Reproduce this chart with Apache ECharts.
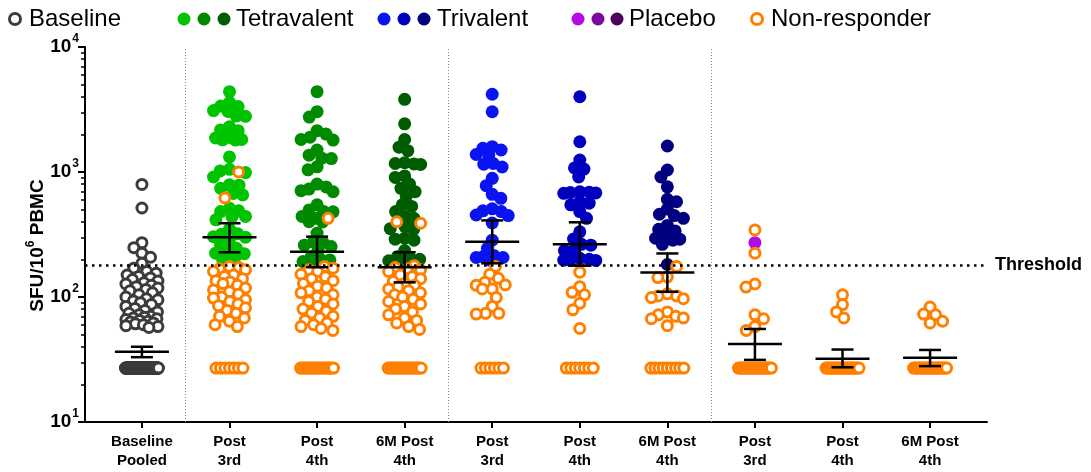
<!DOCTYPE html>
<html><head><meta charset="utf-8">
<script src="https://cdn.jsdelivr.net/npm/echarts/dist/echarts.min.js"></script>
<style>html,body{margin:0;padding:0;background:#fff}#c{width:1091px;height:472px}</style>
</head><body><div id="c"></div>
<script>
// ---------------- DATA ----------------
const categories = ['Baseline\nPooled','Post\n3rd','Post\n4th','6M Post\n4th','Post\n3rd','Post\n4th','6M Post\n4th','Post\n3rd','Post\n4th','6M Post\n4th'];
const yTickValues = [10, 100, 1000, 10000];
const minorTickValues = [20,30,40,50,60,70,80,90,200,300,400,500,600,700,800,900,2000,3000,4000,5000,6000,7000,8000,9000];
const thresholdValue = 180;
const floorValue = 27;   // plotted value of non-detected responses

const baselinePooled = [795,515,272,248,224,208,186,170,160,155,150,146,142,138,134,130,127,124,121,118,115,112,108,104,100,97,95,93,90,87,84,81,78,76,74,72,70,69,68,67,66,65,64,63,62,61,60,59,58,57];

const tetraPost3rd = [4390,3600,3370,3340,3100,3050,2800,2790,2300,2170,2140,1890,1870,1820,1810,1800,1320,1050,1020,990,912,790,785,740,673,655,513,490,482,441,438,414,350,320,318,304,301,276,260,245,230,224,222,205,198];
const tetraPost4th = [4390,3040,2750,2140,2010,1900,1820,1800,1500,1364,1290,1280,1100,1040,800,760,730,709,695,546,497,482,480,441,426,400,398,324,276,275,260,253,237,210,200,198,192,190];
const tetra6MPost4th = [3815,2430,1820,1580,1480,1188,1170,1160,1150,930,905,800,740,695,640,546,530,482,441,426,366,352,348,295,290,285,235,210,204,200,195,190];
const triPost3rd = [4186,3035,1594,1548,1500,1380,1364,1170,1155,1097,890,777,663,616,507,489,482,453,448,391,285,245,215,210,207,207,198];
const triPost4th = [4000,1745,1247,1078,1055,912,695,690,685,680,675,578,563,546,482,426,332,291,264,260,237,235,204,200,198,197,196];
const tri6MPost4th = [1614,1038,912,761,605,578,505,459,448,426,374,348,338,305,295,290,285,264,182];
const placeboPost3rd = [272];
const placeboPost4th = [];
const placebo6MPost4th = [];

const nrTetraPost3rd = [1000,620,175,172,168,165,160,150,146,140,135,132,128,124,118,114,110,105,100,98,95,92,88,85,82,78,74,70,68,64,60,58];
const nrTetraPost4th = [426,175,170,165,160,152,145,140,135,128,122,118,112,108,104,100,96,92,88,84,80,77,74,70,68,65,62,60,58,56,54];
const nrTetra6MPost4th = [400,389,178,172,168,165,160,150,145,140,133,128,124,120,116,112,108,104,100,96,92,88,84,80,76,72,68,65,62,58,55];
const nrTriPost3rd = [175,152,141,131,125,124,116,116,99,84,74,73,74];
const nrTriPost4th = [158,121,109,104,89,79,56];
const nrTri6MPost4th = [175,145,143,106,102,102,99,97,76,72,70,68,67,59];
const nrPlaceboPost3rd = [344,224,127,120,72,67,58,54];
const nrPlaceboPost4th = [104,87,76,68];
const nrPlacebo6MPost4th = [83,73,72,64,62];

const floorCounts = [100,7,20,20,6,7,9,23,23,23];

const geoMean = [36.5,300,230,173,277,264,157,42,32,32.6];
const ciLow   = [33,228,173,131,186,178,110,31.4,27.4,28];
const ciHigh  = [40,389,304,228,410,396,223,55.5,38,37.7];

// ---------------- STYLE / LAYOUT ----------------
const FONT = '"Liberation Sans", Arial, Helvetica, sans-serif';
const ORANGE = '#ff8000';
const GRAY = '#3c3c3c';
const groupColors = [GRAY,'#00c400','#008a00','#005c00','#0a14f0','#0000c0','#000080','#b40ae6','#7d0a9b','#4b005f'];
const responders = [baselinePooled,tetraPost3rd,tetraPost4th,tetra6MPost4th,triPost3rd,triPost4th,tri6MPost4th,placeboPost3rd,placeboPost4th,placebo6MPost4th];
const nonResponders = [[],nrTetraPost3rd,nrTetraPost4th,nrTetra6MPost4th,nrTriPost3rd,nrTriPost4th,nrTri6MPost4th,nrPlaceboPost3rd,nrPlaceboPost4th,nrPlacebo6MPost4th];

const W = 1091, H = 472;
const grid = {left: 85, right: 104, top: 47, bottom: 50};
const xMin = -0.65, xMax = 9.65, yMin = 10, yMax = 10000;
const pxPerX = (W - grid.left - grid.right) / (xMax - xMin);
const pxPerDec = (H - grid.top - grid.bottom) / Math.log10(yMax / yMin);

// beeswarm layout (pixel space -> data offsets)
function swarm(items, minD, maxOff) {
  const placed = [];
  const sorted = items.slice().sort((a, b) => b.v - a.v);
  let lastSign = 1;
  for (const it of sorted) {
    const y = -Math.log10(it.v) * pxPerDec;
    const near = placed.filter(p => Math.abs(p.y - y) < minD);
    let cands = [0];
    for (const p of near) {
      const dx = Math.sqrt(minD * minD - (p.y - y) * (p.y - y));
      cands.push(p.x + dx, p.x - dx);
    }
    cands = cands.filter(x => Math.abs(x) <= maxOff + 1e-6);
    const ok = cands.filter(x => near.every(p => Math.hypot(p.x - x, p.y - y) >= minD - 1e-6));
    let best = 0;
    if (ok.length) {
      ok.sort((a, b) => (Math.abs(a) - Math.abs(b)) || (lastSign > 0 ? a - b : b - a));
      best = ok[0];
    } else {
      let bd = -1;
      for (let x = -maxOff; x <= maxOff + 1e-6; x += 0.5) {
        const d = Math.min(...near.map(p => Math.hypot(p.x - x, p.y - y)));
        if (d > bd + 1e-9) { bd = d; best = x; }
      }
    }
    if (best !== 0) lastSign = Math.sign(best);
    placed.push({x: best, y, it});
  }
  return placed.map(p => ({v: p.it.v, k: p.it.k, dx: p.x / pxPerX}));
}

const series = [];
for (let i = 0; i < categories.length; i++) {
  const items = responders[i].map(v => ({v, k: 'r'})).concat(nonResponders[i].map(v => ({v, k: 'n'})));
  const laid = swarm(items, 9.5, 16);
  const open = (i === 0);
  series.push({
    type: 'scatter', name: 'resp' + i, silent: true, animation: false,
    symbol: 'circle', symbolSize: open ? 10 : 13,
    itemStyle: open ? {color: '#fff', borderColor: GRAY, borderWidth: 3, opacity: 1} : {color: groupColors[i], opacity: 1},
    data: laid.filter(d => d.k === 'r').map(d => [i + d.dx, d.v]), z: 3
  });
  series.push({
    type: 'scatter', name: 'nr' + i, silent: true, animation: false,
    symbol: 'circle', symbolSize: 10,
    itemStyle: {color: '#fff', borderColor: ORANGE, borderWidth: 3, opacity: 1},
    data: laid.filter(d => d.k === 'n').map(d => [i + d.dx, d.v]), z: 4
  });
  // floor row
  const n = floorCounts[i];
  const span = n > 1 ? Math.min(33, (n - 1) * 4.5) : 0;
  const fl = [];
  for (let j = 0; j < n; j++) {
    const off = n > 1 ? -span / 2 + j * span / (n - 1) : 0;
    fl.push([i + off / pxPerX, floorValue]);
  }
  series.push({
    type: 'scatter', name: 'floor' + i, silent: true, animation: false,
    symbol: 'circle', symbolSize: 10,
    itemStyle: {color: '#fff', borderColor: i === 0 ? GRAY : ORANGE, borderWidth: 3, opacity: 1},
    data: fl, z: 4
  });
}

// mean + 95% CI bars
series.push({
  type: 'custom', name: 'meanCI', silent: true, animation: false, z: 10,
  encode: {x: 0, y: [1, 2, 3]},
  data: geoMean.map((m, i) => [i, m, ciLow[i], ciHigh[i]]),
  renderItem: function (params, api) {
    const i = api.value(0);
    const pm = api.coord([i, api.value(1)]);
    const pl = api.coord([i, api.value(2)]);
    const ph = api.coord([i, api.value(3)]);
    const st = {stroke: '#000', lineWidth: 2.5};
    return {type: 'group', children: [
      {type: 'line', shape: {x1: pm[0] - 27, y1: pm[1], x2: pm[0] + 27, y2: pm[1]}, style: st},
      {type: 'line', shape: {x1: pl[0], y1: pl[1], x2: ph[0], y2: ph[1]}, style: st},
      {type: 'line', shape: {x1: ph[0] - 11, y1: ph[1], x2: ph[0] + 11, y2: ph[1]}, style: st},
      {type: 'line', shape: {x1: pl[0] - 11, y1: pl[1], x2: pl[0] + 11, y2: pl[1]}, style: st}
    ]};
  },
  markLine: {
    silent: true, symbol: 'none', animation: false,
    data: [
      {yAxis: thresholdValue, lineStyle: {type: [2.5, 4.5], width: 2.5, color: '#000'},
       label: {show: true, position: 'end', formatter: 'Threshold', fontWeight: 'bold', fontSize: 18, fontFamily: FONT, color: '#000', distance: 8}},
      {xAxis: 0.5, lineStyle: {type: [1, 2], width: 1, color: '#888'}, label: {show: false}},
      {xAxis: 3.5, lineStyle: {type: [1, 2], width: 1, color: '#888'}, label: {show: false}},
      {xAxis: 6.5, lineStyle: {type: [1, 2], width: 1, color: '#888'}, label: {show: false}}
    ]
  }
});

// legend drawn as graphics
const LY = 19;
const legendFont = {fontSize: 24, fontFamily: FONT, fill: '#000', verticalAlign: 'middle'};
const graphic = [
  {type: 'circle', shape: {cx: 15, cy: LY, r: 5.5}, style: {fill: '#fff', stroke: GRAY, lineWidth: 3}},
  {type: 'text', x: 29, y: LY, style: Object.assign({text: 'Baseline'}, legendFont)},
  {type: 'circle', shape: {cx: 184, cy: LY, r: 6.5}, style: {fill: groupColors[1]}},
  {type: 'circle', shape: {cx: 204, cy: LY, r: 6.5}, style: {fill: groupColors[2]}},
  {type: 'circle', shape: {cx: 224, cy: LY, r: 6.5}, style: {fill: groupColors[3]}},
  {type: 'text', x: 236, y: LY, style: Object.assign({text: 'Tetravalent'}, legendFont)},
  {type: 'circle', shape: {cx: 384, cy: LY, r: 6.5}, style: {fill: groupColors[4]}},
  {type: 'circle', shape: {cx: 404, cy: LY, r: 6.5}, style: {fill: groupColors[5]}},
  {type: 'circle', shape: {cx: 424, cy: LY, r: 6.5}, style: {fill: groupColors[6]}},
  {type: 'text', x: 437, y: LY, style: Object.assign({text: 'Trivalent'}, legendFont)},
  {type: 'circle', shape: {cx: 578, cy: LY, r: 6.5}, style: {fill: groupColors[7]}},
  {type: 'circle', shape: {cx: 598, cy: LY, r: 6.5}, style: {fill: groupColors[8]}},
  {type: 'circle', shape: {cx: 617, cy: LY, r: 6.5}, style: {fill: groupColors[9]}},
  {type: 'text', x: 629, y: LY, style: Object.assign({text: 'Placebo'}, legendFont)},
  {type: 'circle', shape: {cx: 757, cy: LY, r: 5.5}, style: {fill: '#fff', stroke: ORANGE, lineWidth: 3}},
  {type: 'text', x: 771, y: LY, style: Object.assign({text: 'Non-responder'}, legendFont)}
];

const chart = echarts.init(document.getElementById('c'), null, {renderer: 'canvas'});
chart.setOption({
  animation: false,
  backgroundColor: '#fff',
  textStyle: {fontFamily: FONT},
  grid: grid,
  graphic: graphic,
  xAxis: {
    type: 'value', min: xMin, max: xMax,
    axisLine: {show: true, onZero: false, lineStyle: {color: '#000', width: 2}},
    axisTick: {show: true, length: 6, lineStyle: {color: '#000', width: 2}, customValues: categories.map((c, i) => i)},
    axisLabel: {customValues: categories.map((c, i) => i), formatter: v => categories[Math.round(v)],
      fontWeight: 'bold', fontSize: 15, lineHeight: 19, color: '#000', margin: 10, fontFamily: FONT},
    splitLine: {show: false}
  },
  yAxis: [{
    type: 'log', logBase: 10, min: yMin, max: yMax,
    axisLine: {show: true, onZero: false, lineStyle: {color: '#000', width: 2}},
    axisTick: {show: true, length: 7, lineStyle: {color: '#000', width: 2}, customValues: yTickValues},
    axisLabel: {
      customValues: yTickValues,
      margin: 6, color: '#000',
      formatter: v => '{b|10}{s|' + Math.round(Math.log10(v)) + '}',
      rich: {
        b: {fontSize: 19, fontWeight: 'bold', fontFamily: FONT, color: '#000', verticalAlign: 'middle', lineHeight: 28},
        s: {fontSize: 12, fontWeight: 'bold', fontFamily: FONT, color: '#000', verticalAlign: 'top', lineHeight: 12, padding: [0, 0, 0, 1]}
      }
    },
    splitLine: {show: false},
    name: '{a|SFU/10}{s|6}{a| PBMC}', nameLocation: 'middle', nameGap: 34, nameRotate: 90,
    nameMoveOverlap: false,
    nameTextStyle: {
      padding: [0, 22, 0, 0],
      rich: {
        a: {fontSize: 19, fontWeight: 'bold', fontFamily: FONT, color: '#000', verticalAlign: 'middle', lineHeight: 26},
        s: {fontSize: 12, fontWeight: 'bold', fontFamily: FONT, color: '#000', verticalAlign: 'top', lineHeight: 12}
      }
    }
  }, {
    type: 'log', logBase: 10, min: yMin, max: yMax, position: 'left', offset: 0,
    axisLine: {show: false, onZero: false},
    axisTick: {show: true, length: 4, lineStyle: {color: '#000', width: 1.5}, customValues: minorTickValues},
    axisLabel: {show: false},
    splitLine: {show: false}
  }],
  series: series
});
</script></body></html>
